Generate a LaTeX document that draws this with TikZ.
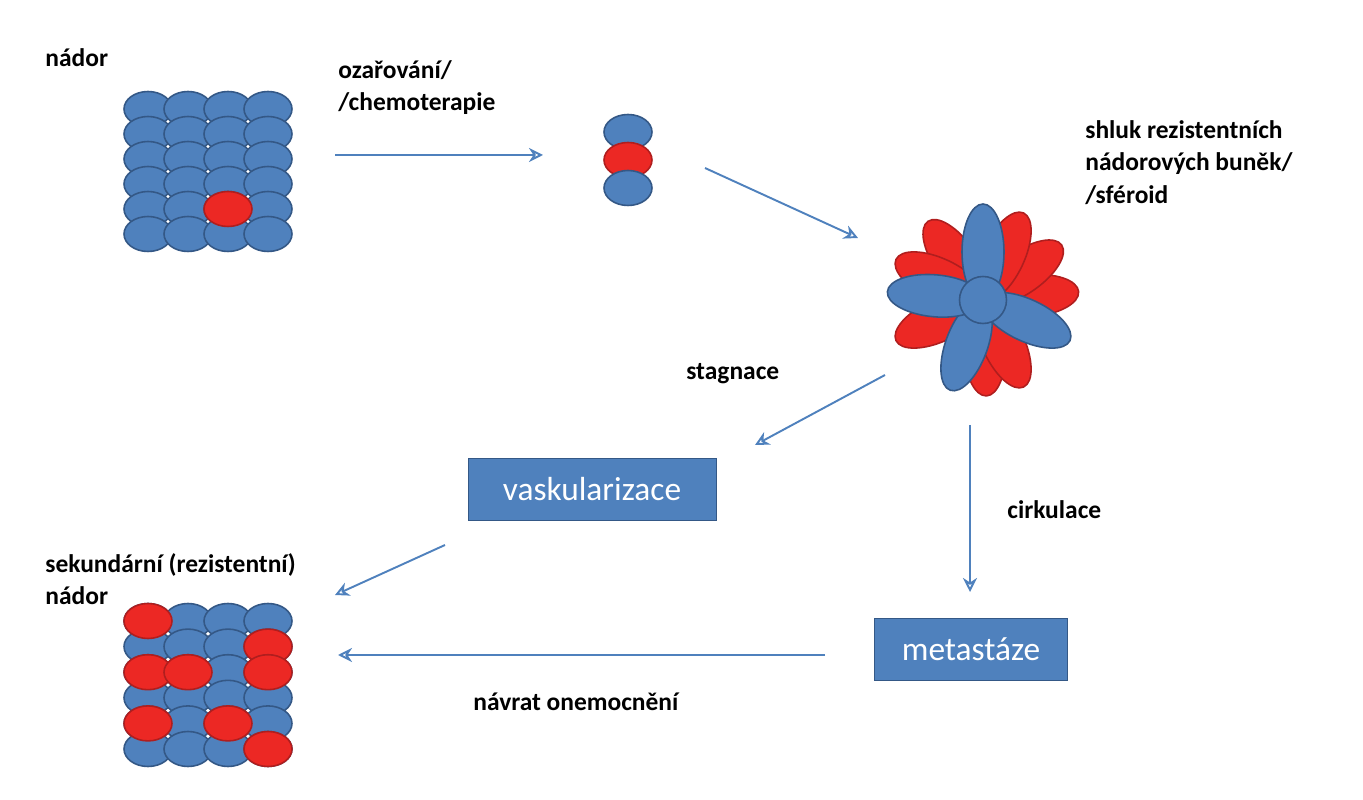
\documentclass[tikz,border=0pt]{standalone}
\usepackage{fontspec}
\setmainfont{Carlito}
\usetikzlibrary{shapes.geometric,arrows.meta,positioning,calc}
\definecolor{cellblue}{RGB}{79,129,189}
\definecolor{cellblueline}{RGB}{52,88,134}
\definecolor{cellred}{RGB}{236,40,36}
\definecolor{cellredline}{RGB}{176,30,30}
\begin{document}
\begin{tikzpicture}[
    x=0.02cm,y=-0.02cm,
    cell/.style={ellipse,draw=cellblueline,fill=cellblue,line width=0.9pt,minimum width=0.96cm,minimum height=0.7cm,inner sep=0pt},
    redcell/.style={cell,draw=cellredline,fill=cellred},
    petal/.style={draw=cellblueline,fill=cellblue,line width=0.9pt},
    redpetal/.style={petal,draw=cellredline,fill=cellred},
    stage/.style={rectangle,fill=cellblue,draw=cellblueline,text=white,minimum width=4.96cm,minimum height=1.24cm,font=\fontsize{19}{22}\selectfont},
    label/.style={anchor=north west,align=left,font=\fontsize{14.5}{18.5}\selectfont\bfseries,inner sep=0pt},
    arrow/.style={-{Stealth[open,length=8pt,width=8pt]},cellblue,line width=1.1pt}
]
\useasboundingbox (0,0) rectangle (1363,800);

% Primary tumour
\foreach \r in {0,...,5}
  \foreach \c in {0,...,3}
    \node[cell] (t\r\c) at (148+\c*40,109+\r*25) {};
\node[redcell] (t42) at (228,209) {};

% Surviving cells
\node[cell] (s0) at (628,132) {};
\node[redcell] (s1) at (628,160) {};
\node[cell] (s2) at (628,188) {};

% Spheroid
\coordinate (flower) at (983,300);
\foreach \a in {88,65,-5,-35,-65,235,205,155}
  \draw[redpetal,rotate around={-\a:(flower)}] ($(flower)+(48,0)$) ellipse [x radius=48,y radius=-21];
\foreach \a in {110,25,270,185}
  \draw[petal,rotate around={-\a:(flower)}] ($(flower)+(48,0)$) ellipse [x radius=48,y radius=-21];
\node[circle,draw=cellblueline,fill=cellblue,line width=0.9pt,minimum size=0.94cm,inner sep=0pt] (core) at (flower) {};

% Secondary tumour
\foreach \r in {0,...,5}
  \foreach \c in {0,...,3}
    \node[cell] (u\r\c) at (148+\c*40,621+\r*25.6) {};
\foreach \r/\c in {0/0,1/3,2/0,2/1,2/3,4/0,4/2,5/3}
  \node[redcell] at (148+\c*40,621+\r*25.6) {};

% Stages
\node[stage] (vask) at (592,489) {vaskularizace};
\node[stage,minimum width=3.86cm] (meta) at (971,649) {metastáze};

% Labels
\node[label] (lnador) at (45,48) {nádor};
\node[label] (lozar) at (338,60) {ozařování/\\/chemoterapie};
\node[label] (lshluk) at (1085,120) {shluk rezistentních\\nádorových buněk/\\/sféroid};
\node[label] (lstag) at (686,363) {stagnace};
\node[label] (lcirk) at (1007,500) {cirkulace};
\node[label] (lsek) at (45,553) {sekundární (rezistentní)\\nádor};
\node[label] (lnavrat) at (473,693) {návrat onemocnění};

% Connectors
\coordinate (a1) at (335,155); \coordinate (b1) at (543,155);
\coordinate (a2) at (705,168); \coordinate (b2) at (858,238);
\coordinate (a3) at (885,375); \coordinate (b3) at (755,445);
\coordinate (a4) at (970,425); \coordinate (b4) at (970,592);
\coordinate (a5) at (445,545); \coordinate (b5) at (335,595);
\coordinate (a6) at (825,655); \coordinate (b6) at (338,655);
\foreach \i in {1,...,6}
  \draw[arrow] (a\i) -- (b\i);
\end{tikzpicture}
\end{document}
